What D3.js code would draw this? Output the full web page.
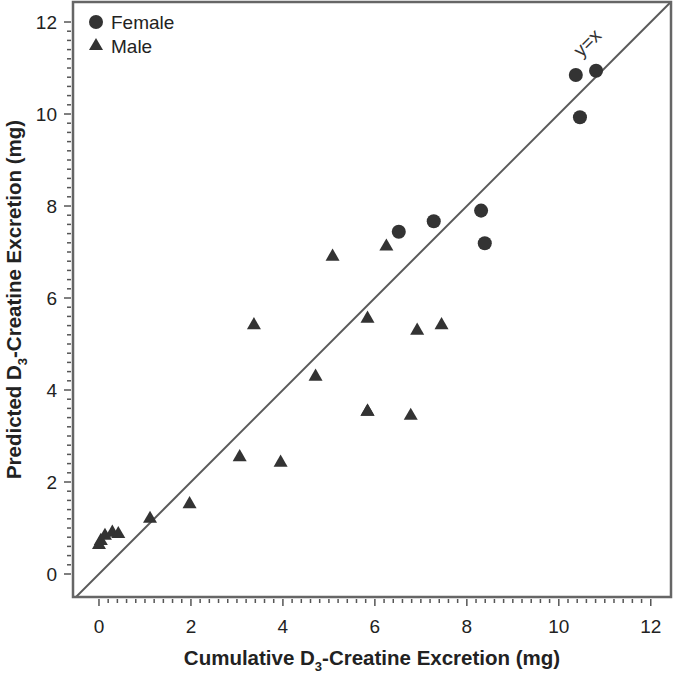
<!DOCTYPE html>
<html><head><meta charset="utf-8">
<script src="https://cdn.jsdelivr.net/npm/d3@7"></script>
<style>body{margin:0;background:#fff}svg{display:block}</style>
</head><body>
<script>
const femaleX = [10.37, 10.81, 10.46, 6.52, 7.28, 8.31, 8.39];
const femaleY = [10.85, 10.94, 9.93, 7.44, 7.67, 7.90, 7.19];
const maleX = [0.00, 0.04, 0.13, 0.29, 0.42, 1.11, 1.97, 3.06, 3.95, 3.37, 4.71, 5.08, 5.84, 5.84, 6.25, 6.92, 7.45, 5.84, 6.78];
const maleY = [0.63, 0.72, 0.83, 0.90, 0.87, 1.20, 1.52, 2.54, 2.42, 5.41, 4.29, 6.90, 5.55, 3.53, 7.12, 5.29, 5.41, 3.53, 3.44];
const tickValues = [0, 2, 4, 6, 8, 10, 12];
const legendLabels = ["Female", "Male"];

const W = 674, H = 677;
const box = {l: 73, r: 671, t: 2, b: 597};
const svg = d3.select("body").append("svg").attr("width", W).attr("height", H);
const x = d3.scaleLinear().domain([-0.565, 12.44]).range([box.l, box.r]);
const y = d3.scaleLinear().domain([-0.5, 12.435]).range([box.b, box.t]);
const ink = "#333";
const font = "'Liberation Sans', Arial, sans-serif";

svg.append("clipPath").attr("id","c").append("rect")
  .attr("x", box.l).attr("y", box.t).attr("width", box.r-box.l).attr("height", box.b-box.t);

const lo = -1, hi = 13;
svg.append("line").attr("clip-path","url(#c)")
  .attr("x1", x(lo)).attr("y1", y(lo)).attr("x2", x(hi)).attr("y2", y(hi))
  .attr("stroke", "#5a5a5a").attr("stroke-width", 2);

const minor = d3.range(0, 12.001, 0.2);
const isMajor = d => Math.abs(d/2 - Math.round(d/2)) < 1e-6;
const xAx = svg.append("g").attr("transform", `translate(0,${box.b+2})`);
xAx.selectAll("line").data(minor).join("line")
  .attr("x1", d=>x(d)).attr("x2", d=>x(d)).attr("y1", 0)
  .attr("y2", d => isMajor(d) ? 7 : 4)
  .attr("stroke", "#555").attr("stroke-width", 1.5);
xAx.selectAll("text").data(tickValues).join("text")
  .attr("x", d=>x(d)).attr("y", 34).attr("text-anchor","middle")
  .attr("font-family", font).attr("font-size", 19).attr("fill", "#222")
  .text(d=>d);

const yAx = svg.append("g").attr("transform", `translate(${box.l-2},0)`);
yAx.selectAll("line").data(minor).join("line")
  .attr("y1", d=>y(d)).attr("y2", d=>y(d)).attr("x1", 0)
  .attr("x2", d => isMajor(d) ? -7 : -4)
  .attr("stroke", "#555").attr("stroke-width", 1.5);
yAx.selectAll("text").data(tickValues).join("text")
  .attr("x", -14).attr("y", d=>y(d)).attr("dy", "0.35em").attr("text-anchor","end")
  .attr("font-family", font).attr("font-size", 19).attr("fill", "#222")
  .text(d=>d);

svg.append("rect").attr("x", box.l).attr("y", box.t).attr("width", box.r-box.l).attr("height", box.b-box.t)
  .attr("fill","none").attr("stroke","#666").attr("stroke-width", 2.5);

const xt = svg.append("text").attr("x", (box.l+box.r)/2).attr("y", 665).attr("text-anchor","middle")
  .attr("font-family", font).attr("font-size", 20.5).attr("font-weight","bold").attr("fill","#222");
xt.append("tspan").text("Cumulative D");
xt.append("tspan").attr("dy", 6).attr("font-size", 13).text("3");
xt.append("tspan").attr("dy", -6).text("-Creatine Excretion (mg)");

const yt = svg.append("text").attr("transform", `translate(21,${(box.t+box.b)/2}) rotate(-90)`)
  .attr("text-anchor","middle")
  .attr("font-family", font).attr("font-size", 20.5).attr("font-weight","bold").attr("fill","#222");
yt.append("tspan").text("Predicted D");
yt.append("tspan").attr("dy", 6).attr("font-size", 13).text("3");
yt.append("tspan").attr("dy", -6).text("-Creatine Excretion (mg)");

const circ = d3.symbol().type(d3.symbolCircle).size(155);
const tri = d3.symbol().type(d3.symbolTriangle).size(85);
svg.append("g").selectAll("path").data(maleX.map((v,i)=>[v, maleY[i]])).join("path")
  .attr("d", tri).attr("transform", d=>`translate(${x(d[0])},${y(d[1])})`).attr("fill", ink);
svg.append("g").selectAll("path").data(femaleX.map((v,i)=>[v, femaleY[i]])).join("path")
  .attr("d", circ).attr("transform", d=>`translate(${x(d[0])},${y(d[1])})`).attr("fill", ink);

svg.append("text").attr("transform", `translate(${x(10.72)},${y(11.45)}) rotate(-45)`)
  .attr("text-anchor","middle").attr("font-family", font).attr("font-size", 19).attr("fill","#333").text("y=x");

const lg = svg.append("g");
lg.append("path").attr("d", circ).attr("transform","translate(96,22)").attr("fill", ink);
lg.append("path").attr("d", tri).attr("transform","translate(96,46)").attr("fill", ink);
lg.selectAll("text").data(legendLabels).join("text")
  .attr("x", 111).attr("y", (d,i)=>22 + i*24).attr("dy","0.35em")
  .attr("font-family", font).attr("font-size", 19).attr("fill","#222").text(d=>d);
</script>
</body></html>
